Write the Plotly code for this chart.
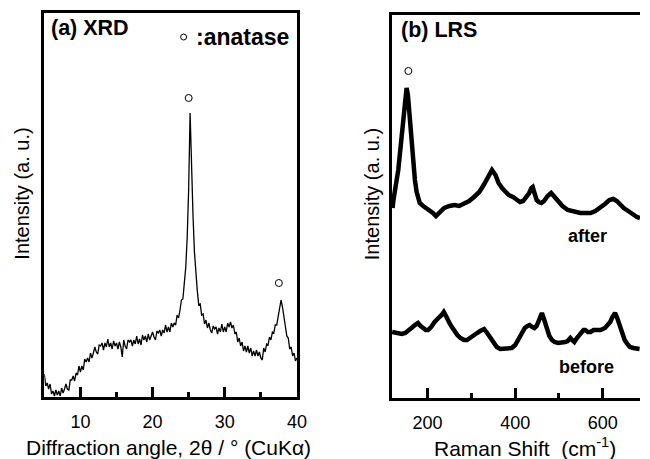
import plotly.graph_objects as go

# (a) XRD pattern, intensity in arbitrary units
xrd_angle = [
    5.0, 5.2, 5.4, 5.6, 5.8, 6.0, 6.2, 6.4, 6.6, 6.8,
    7.0, 7.2, 7.4, 7.6, 7.8, 8.0, 8.2, 8.4, 8.6, 8.8,
    9.0, 9.2, 9.4, 9.6, 9.8, 10.0, 10.2, 10.4, 10.6, 10.8,
    11.0, 11.2, 11.4, 11.6, 11.8, 12.0, 12.2, 12.4, 12.6, 12.8,
    13.0, 13.2, 13.4, 13.6, 13.8, 14.0, 14.2, 14.4, 14.6, 14.8,
    15.0, 15.2, 15.4, 15.6, 15.8, 16.0, 16.2, 16.4, 16.6, 16.8,
    17.0, 17.2, 17.4, 17.6, 17.8, 18.0, 18.2, 18.4, 18.6, 18.8,
    19.0, 19.2, 19.4, 19.6, 19.8, 20.0, 20.2, 20.4, 20.6, 20.8,
    21.0, 21.2, 21.4, 21.6, 21.8, 22.0, 22.2, 22.4, 22.6, 22.8,
    23.0, 23.2, 23.4, 23.6, 23.8, 24.0, 24.2, 24.4, 24.6, 24.8,
    25.0, 25.2, 25.4, 25.6, 25.8, 26.0, 26.2, 26.4, 26.6, 26.8,
    27.0, 27.2, 27.4, 27.6, 27.8, 28.0, 28.2, 28.4, 28.6, 28.8,
    29.0, 29.2, 29.4, 29.6, 29.8, 30.0, 30.2, 30.4, 30.6, 30.8,
    31.0, 31.2, 31.4, 31.6, 31.8, 32.0, 32.2, 32.4, 32.6, 32.8,
    33.0, 33.2, 33.4, 33.6, 33.8, 34.0, 34.2, 34.4, 34.6, 34.8,
    35.0, 35.2, 35.4, 35.6, 35.8, 36.0, 36.2, 36.4, 36.6, 36.8,
    37.0, 37.2, 37.4, 37.6, 37.8, 38.0, 38.2, 38.4, 38.6, 38.8,
    39.0, 39.2, 39.4, 39.6, 39.8, 40.0,
]
xrd_intensity = [
    23, 11, 14, 8, 13, 3, 6, 1, 7, 2,
    6, 1, 9, 4, 8, 13, 8, 7, 17, 17,
    21, 16, 24, 22, 31, 25, 31, 27, 38, 35,
    39, 35, 44, 39, 44, 50, 45, 43, 52, 51,
    54, 47, 54, 50, 58, 50, 54, 48, 56, 51,
    54, 48, 55, 50, 40, 57, 51, 48, 57, 55,
    57, 51, 57, 53, 61, 53, 58, 52, 62, 57,
    61, 55, 63, 57, 61, 65, 60, 57, 66, 64,
    67, 61, 67, 64, 72, 65, 70, 65, 74, 70,
    74, 72, 82, 79, 87, 97, 98, 112, 130, 160,
    208, 284, 227, 182, 145, 122, 106, 92, 93, 82,
    83, 73, 77, 69, 74, 67, 64, 71, 68, 70,
    63, 69, 65, 73, 65, 70, 65, 74, 70, 75,
    69, 72, 63, 65, 55, 59, 51, 55, 46, 51,
    45, 51, 44, 49, 41, 46, 41, 47, 41, 45,
    39, 37, 49, 45, 53, 52, 60, 57, 65, 64,
    72, 72, 82, 88, 97, 90, 80, 73, 61, 59,
    48, 50, 41, 44, 36, 39,
]
xrd_mark_angle = [25.0, 37.5]
xrd_mark_intensity = [299, 114]

# (b) Raman spectra
after_shift = [120, 122, 133, 140, 145, 149, 152, 155, 159, 163, 167, 171, 175, 182, 190,
               197, 205, 212, 219, 228, 238, 250, 261, 272, 283, 295, 306, 318, 328, 338,
               347, 355, 362, 370, 377, 385, 395, 403, 411, 418, 425, 432, 437, 440, 444,
               449, 454, 460, 466, 474, 482, 488, 497, 508, 520, 535, 549, 560, 572, 583,
               594, 605, 615, 624, 632, 640, 648, 658, 669, 678, 685]
after_int = [190, 198, 228, 263, 285, 303, 310, 303, 278, 255, 235, 218, 206, 195, 192,
             190, 188, 185, 182, 186, 190, 192, 193, 192, 194, 197, 201, 206, 213, 222,
             228, 223, 215, 210, 206, 203, 201, 198, 196, 197, 201, 205, 210, 211, 205,
             198, 196, 195, 197, 202, 205, 202, 196, 192, 188, 186, 185, 185, 185, 187,
             190, 194, 198, 199, 197, 193, 190, 187, 183, 181, 180]

before_shift = [119, 126, 134, 141, 149, 156, 163, 171, 178, 184, 190, 196, 201, 208, 216,
                222, 227, 232, 237, 242, 246, 251, 257, 262, 268, 275, 283, 290, 298, 306,
                313, 320, 329, 336, 343, 350, 358, 366, 375, 385, 392, 400, 407, 414, 422,
                428, 433, 439, 444, 449, 453, 457, 461, 465, 469, 474, 478, 484, 490, 498,
                508, 514, 520, 526, 530, 535, 541, 549, 556, 560, 566, 572, 579, 587, 595,
                605, 612, 617, 622, 628, 633, 639, 645, 650, 656, 662, 670, 677, 684]
before_int = [66, 65, 65, 64, 65, 67, 70, 73, 75, 72, 70, 68, 68, 71, 76,
              78, 81, 83, 86, 82, 78, 74, 70, 66, 63, 60, 58, 58, 60, 63,
              65, 67, 69, 65, 60, 55, 51, 49, 49, 49, 50, 53, 58, 64, 70,
              72, 73, 71, 70, 72, 76, 81, 85, 80, 75, 68, 62, 58, 56, 55,
              55, 56, 57, 60, 58, 56, 60, 65, 68, 68, 66, 66, 68, 68, 68,
              70, 73, 76, 81, 85, 80, 71, 64, 58, 54, 51, 50, 49, 49]
raman_mark_shift = [156]
raman_mark_int = [327]

W, H = 650, 459
FONT = "Arial, Liberation Sans, sans-serif"


def px(x):
    return x / W


def py(y):
    return 1 - y / H


fig = go.Figure()
fig.add_trace(go.Scatter(x=xrd_angle, y=xrd_intensity, mode="lines",
                         line=dict(color="black", width=1.3), xaxis="x", yaxis="y"))
fig.add_trace(go.Scatter(x=xrd_mark_angle, y=xrd_mark_intensity, mode="markers",
                         marker=dict(symbol="circle-open", size=7, color="black",
                                     line=dict(width=1)), xaxis="x", yaxis="y"))
fig.add_trace(go.Scatter(x=after_shift, y=after_int, mode="lines",
                         line=dict(color="black", width=4.5), xaxis="x2", yaxis="y2"))
fig.add_trace(go.Scatter(x=before_shift, y=before_int, mode="lines",
                         line=dict(color="black", width=4.5), xaxis="x2", yaxis="y2"))
fig.add_trace(go.Scatter(x=raman_mark_shift, y=raman_mark_int, mode="markers",
                         marker=dict(symbol="circle-open", size=7, color="black",
                                     line=dict(width=1)), xaxis="x2", yaxis="y2"))

axis_common = dict(showgrid=False, zeroline=False, linecolor="black", linewidth=3,
                   ticks="inside", tickcolor="black", tickwidth=3, ticklen=10,
                   tickfont=dict(family=FONT, size=18, color="black"))

fig.update_layout(
    width=W, height=H, margin=dict(l=0, r=0, t=0, b=0),
    paper_bgcolor="white", plot_bgcolor="white", showlegend=False,
    font=dict(family=FONT, color="black"),
    xaxis=dict(domain=[px(45), px(302)], range=[5, 40.06], dtick=10, tick0=0,
               showline=True, mirror=True, ticklabelstandoff=6,
               minor=dict(dtick=5, ticks="inside", ticklen=5, tickwidth=3, tickcolor="black"),
               anchor="y", **axis_common),
    yaxis=dict(domain=[py(397), py(13)], range=[0, 384], showline=True, mirror=True,
               showticklabels=False, ticks="", showgrid=False, zeroline=False,
               linecolor="black", linewidth=3, anchor="x"),
    xaxis2=dict(domain=[px(398), 1.0], range=[118.4, 685], dtick=200, tick0=0,
                showline=True, mirror=True, ticklabelstandoff=6,
                minor=dict(dtick=100, ticks="inside", ticklen=5, tickwidth=3, tickcolor="black"),
                anchor="y2", **axis_common),
    yaxis2=dict(domain=[py(398), py(15)], range=[0, 383], showline=True, mirror=False,
                showticklabels=False, ticks="", showgrid=False, zeroline=False,
                linecolor="black", linewidth=3, anchor="x2"),
)

annotations = [
    dict(x=px(50), y=py(28), text="<b>(a) XRD</b>", xanchor="left", size=21.5),
    dict(x=px(197), y=py(37), text="<b>:anatase</b>", xanchor="left", size=23),
    dict(x=px(405), y=py(30), text="<b>(b) LRS</b>", xanchor="left", size=21.5),
    dict(x=px(597), y=py(236), text="<b>after</b>", xanchor="center", size=18),
    dict(x=px(596), y=py(367), text="<b>before</b>", xanchor="center", size=18),
    dict(x=px(171), y=py(447), text="Diffraction angle, 2θ / ° (CuKα)", xanchor="center", size=21),
    dict(x=px(533), y=py(447), text="Raman Shift  (cm<sup>-1</sup>)", xanchor="center", size=21),
]
for a in annotations:
    fig.add_annotation(x=a["x"], y=a["y"], xref="paper", yref="paper", text=a["text"],
                       xanchor=a["xanchor"], yanchor="middle", showarrow=False,
                       font=dict(family=FONT, size=a["size"], color="black"))
for xpos in [22, 378]:
    fig.add_annotation(x=px(xpos), y=py(194), xref="paper", yref="paper",
                       text="Intensity (a. u.)", textangle=-90, showarrow=False,
                       xanchor="center", yanchor="middle",
                       font=dict(family=FONT, size=20, color="black"))

# legend circle for ":anatase"
fig.add_trace(go.Scatter(x=[24.3], y=[360], mode="markers",
                         marker=dict(symbol="circle-open", size=6, color="black",
                                     line=dict(width=1)), xaxis="x", yaxis="y"))

fig.write_html("out.html", config={"displayModeBar": False},
               post_script="document.body.style.margin='0';")
